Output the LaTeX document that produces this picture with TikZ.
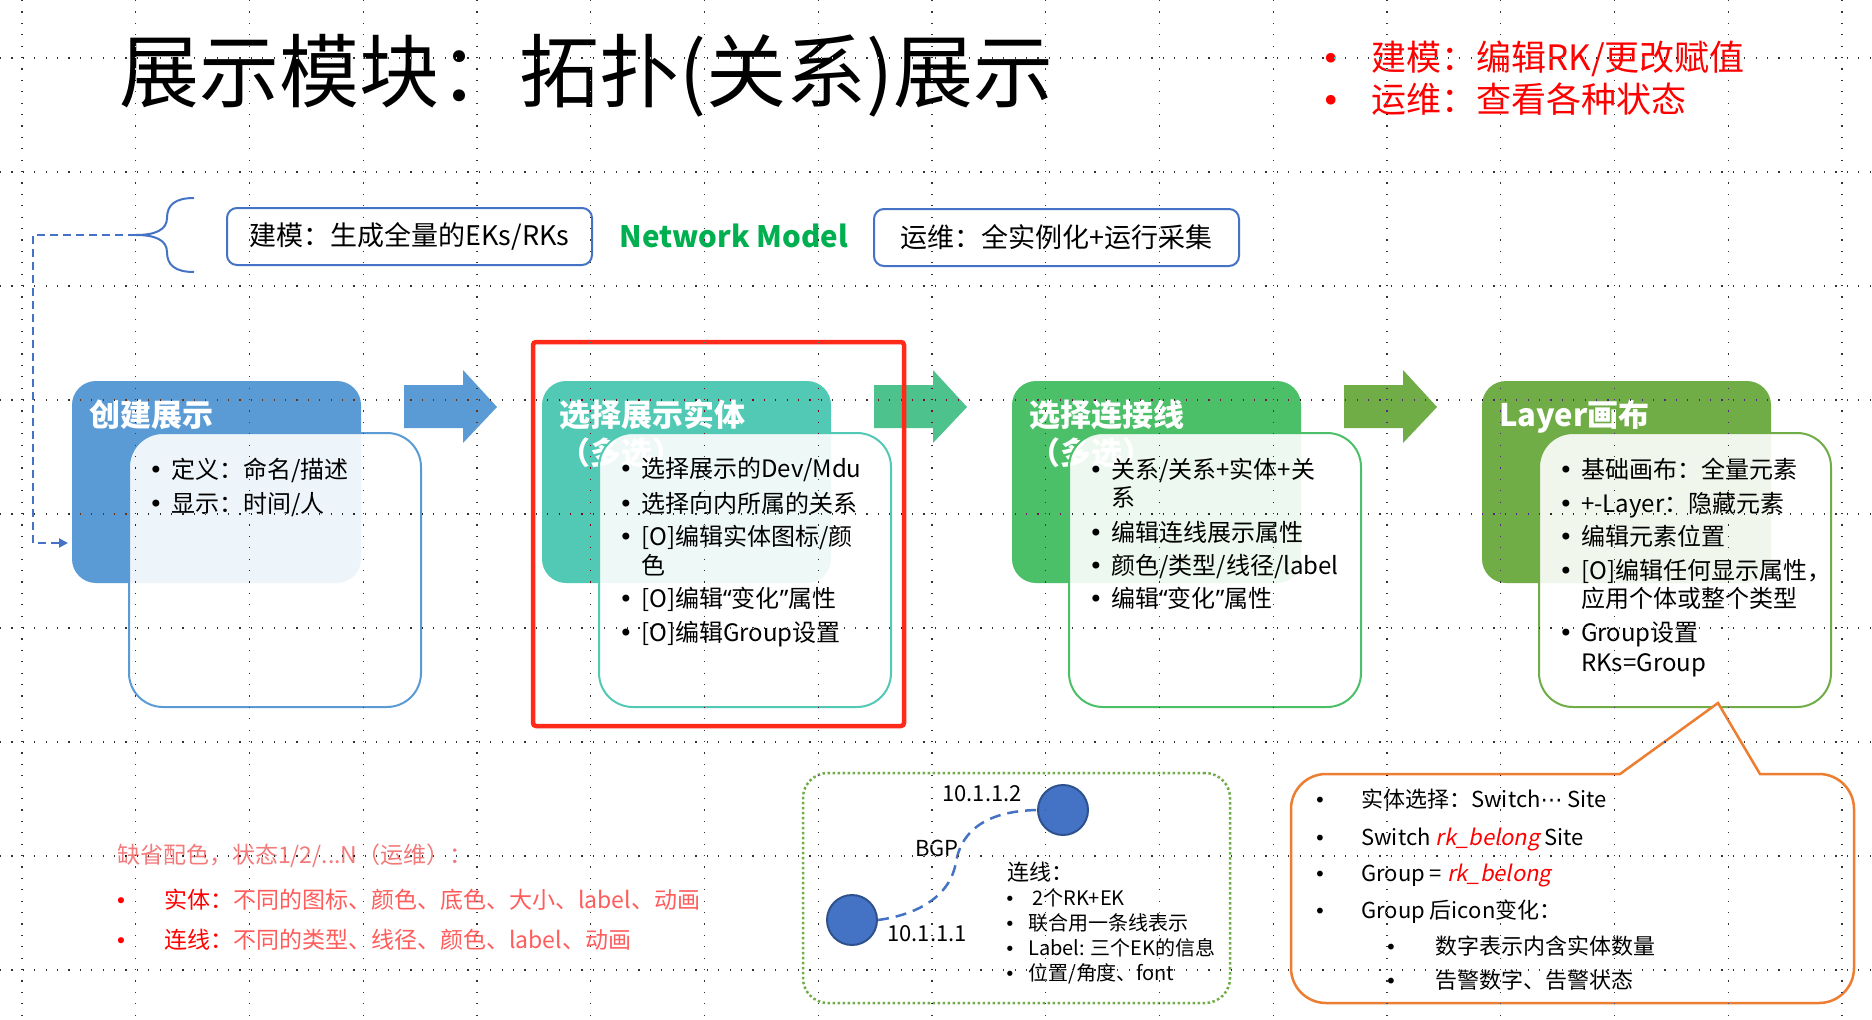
\documentclass[tikz,border=0pt]{standalone}
\usepackage{fontspec}
\setmainfont{Noto Sans CJK SC}[ItalicFont={Noto Sans CJK SC}, ItalicFeatures={FakeSlant=0.2}]
\newfontfamily\bulfont{DejaVu Sans}
\newfontfamily\latinfont{Noto Sans}
\usetikzlibrary{arrows.meta}

\definecolor{cBlue}{HTML}{5B9BD5}
\definecolor{cTeal}{HTML}{52C9B4}
\definecolor{cGreen}{HTML}{4CBF69}
\definecolor{cOlive}{HTML}{70AD47}
\definecolor{cMint}{HTML}{4DC28D}
\definecolor{cLine}{HTML}{4472C4}
\definecolor{cDeep}{HTML}{2F528F}
\definecolor{cRed}{HTML}{FF0000}
\definecolor{cFrame}{HTML}{FF2A1A}
\definecolor{cOrange}{HTML}{ED7D31}
\definecolor{cNet}{HTML}{00B050}
\definecolor{cPink}{HTML}{F27A7A}
\definecolor{cRose}{HTML}{FF5C5C}

\newcommand\fs[1]{\fontsize{#1}{#1}\selectfont}
\newcommand\bdot{{\bulfont •}}
\newcommand\oq{{\latinfont “}}
\newcommand\cq{{\latinfont ”}}
% bullet + text line: name, bullet centre x, text x, baseline y, text
\newcommand\stageitem[5]{%
  \node[bul, font=\fs{24}] (#1b) at (#2,#4) {\bdot};
  \node[item] (#1) at (#3,#4) {#5};}

\begin{document}
\begin{tikzpicture}[x=1pt,y=-1pt,
  txt/.style={anchor=base west, inner sep=0pt},
  bul/.style={anchor=base, inner sep=0pt},
  item/.style={txt, font=\fs{24}},
  stagebox/.style={rectangle, rounded corners=24pt, inner sep=0pt, outer sep=0pt},
  innerbox/.style={rectangle, rounded corners=34pt, line width=2pt, fill=white,
    fill opacity=0.9, inner sep=0pt, minimum width=292pt, minimum height=274pt},
  stagetitle/.style={txt, text=white, font=\fs{31}\bfseries},
  modelbox/.style={rectangle, draw=cLine, line width=2pt, rounded corners=10pt,
    minimum width=365pt, minimum height=57pt, font=\fs{27}},
  brace/.style={draw=cLine, line width=2pt},
  dconn/.style={draw=cLine, line width=2pt, dash pattern=on 8pt off 5pt,
    -{Triangle[length=9pt,width=9pt]}},
  bgp/.style={draw=cLine, line width=2.5pt, dash pattern=on 11pt off 7pt},
  host/.style={circle, fill=cLine, draw=cDeep, line width=2pt, minimum size=50pt, inner sep=0pt},
]
\useasboundingbox (0,0) rectangle (1872,1020);
\fill[white] (0,0) rectangle (1872,1020);

% ---------- heading ----------
\node[txt, font=\fs{80}] (title) at (119,101) {展示模块：拓扑(关系)展示};

\node[bul, text=cRed, font=\fs{33}] (r1b) at (1331,70) {\bdot};
\node[txt, text=cRed, font=\fs{35}] (r1) at (1371,70) {建模：编辑RK/更改赋值};
\node[bul, text=cRed, font=\fs{33}] (r2b) at (1331,112) {\bdot};
\node[txt, text=cRed, font=\fs{35}] (r2) at (1371,112) {运维：查看各种状态};

% ---------- network model row ----------
\node[modelbox] (mA) at (409.5,236.5) {建模：生成全量的EKs/RKs};
\node[font=\fs{29.5}\bfseries, text=cNet, inner sep=0pt] (nm) at (734,236) {Network Model};
\node[modelbox] (mB) at (1056.5,237.5) {运维：全实例化+运行采集};

\draw[brace] (194,198) .. controls (175,198) and (167,205) .. (167,218)
  .. controls (167,230) and (155,235) .. (136,235)
  .. controls (155,235) and (167,240) .. (167,252)
  .. controls (167,265) and (175,272) .. (194,272);
\coordinate (bt) at (136,235);
\coordinate (dcorner) at (33,543);

% ---------- stage 1 ----------
\node[stagebox, fill=cBlue, minimum width=289pt, minimum height=202pt] (s1) at (216.5,482) {};
\node[stagetitle] (s1t) at (89,426.5) {创建展示};
\node[innerbox, draw=cBlue] (i1) at (275,570) {};
\stageitem{t1a}{156}{171}{478}{定义：命名/描述}
\stageitem{t1b}{156}{171}{512}{显示：时间/人}

\draw[dconn] (bt) -| (dcorner) -- ([xshift=-4pt]s1.west |- dcorner);

% ---------- stage 2 ----------
\node[stagebox, fill=cTeal, minimum width=289pt, minimum height=202pt] (s2) at (686.5,482) {};
\node[stagetitle] (s2t) at (559,426.5) {选择展示实体};
\node[stagetitle] (s2u) at (559,464.5) {（多选）};
\node[innerbox, draw=cTeal] (i2) at (745,570) {};
\stageitem{t2a}{626}{641}{477}{选择展示的Dev/Mdu}
\stageitem{t2b}{626}{641}{512}{选择向内所属的关系}
\stageitem{t2c}{626}{641}{545}{[O]编辑实体图标/颜}
\node[item] (t2cc) at (641,574) {色};
\stageitem{t2d}{626}{641}{607}{[O]编辑\oq 变化\cq 属性}
\stageitem{t2e}{626}{641}{641}{[O]编辑Group设置}

% ---------- stage 3 ----------
\node[stagebox, fill=cGreen, minimum width=289pt, minimum height=202pt] (s3) at (1156.5,482) {};
\node[stagetitle] (s3t) at (1029,426.5) {选择连接线};
\node[stagetitle] (s3u) at (1029,464.5) {（多选）};
\node[innerbox, draw=cGreen] (i3) at (1215,570) {};
\stageitem{t3a}{1096}{1111}{478}{关系/关系+实体+关}
\node[item] (t3aa) at (1111,506) {系};
\stageitem{t3b}{1096}{1111}{541}{编辑连线展示属性}
\stageitem{t3c}{1096}{1111}{574}{颜色/类型/线径/label}
\stageitem{t3d}{1096}{1111}{607}{编辑\oq 变化\cq 属性}

% ---------- stage 4 ----------
\node[stagebox, fill=cOlive, minimum width=289pt, minimum height=202pt] (s4) at (1626.5,482) {};
\node[stagetitle] (s4t) at (1499,426.5) {Layer画布};
\node[innerbox, draw=cOlive] (i4) at (1685,570) {};
\stageitem{t4a}{1566}{1581}{478}{基础画布：全量元素}
\stageitem{t4b}{1566}{1581}{512}{+-Layer：隐藏元素}
\stageitem{t4c}{1566}{1581}{545}{编辑元素位置}
\stageitem{t4d}{1566}{1581}{579}{[O]编辑任何显示属性，}
\node[item] (t4dd) at (1581,607) {应用个体或整个类型};
\stageitem{t4e}{1566}{1581}{641}{Group设置}
\node[item] (t4ee) at (1581,671) {RKs=Group};

% ---------- block arrows between stages ----------
\fill[cBlue]  (404,385) -- (463,385) -- (463,370) -- (497,407) -- (463,443) -- (463,428) -- (404,428) -- cycle;
\fill[cMint]  (874,385) -- (933,385) -- (933,370) -- (967,407) -- (933,443) -- (933,428) -- (874,428) -- cycle;
\fill[cOlive] (1344,385) -- (1403,385) -- (1403,370) -- (1437,407) -- (1403,443) -- (1403,428) -- (1344,428) -- cycle;

% highlight frame around stage 2
\node[rectangle, draw=cFrame, line width=4.5pt, rounded corners=3pt,
  minimum width=371pt, minimum height=384pt] (fr) at (718.5,534) {};

% ---------- default colouring notes ----------
\node[txt, font=\fs{23}, text=cPink] (d0) at (117,863) {缺省配色，状态1/2/...N（运维）：};
\node[bul, font=\fs{21}, text=cRed] (d1b) at (121,908.5) {\bdot};
\node[txt, font=\fs{23}, text=cRose] (d1) at (164,908.5) {{\color{cRed}实体：}不同的图标、颜色、底色、大小、label、动画};
\node[bul, font=\fs{21}, text=cRed] (d2b) at (121,948.5) {\bdot};
\node[txt, font=\fs{23}, text=cRose] (d2) at (164,948.5) {{\color{cRed}连线：}不同的类型、线径、颜色、label、动画};

% ---------- link example ----------
\node[rectangle, draw=cOlive, line width=2.5pt, dash pattern=on 2.5pt off 2.5pt,
  rounded corners=25pt, minimum width=427pt, minimum height=230pt] (net) at (1016.5,888) {};
\node[host] (nA) at (1063,810) {};
\node[host] (nB) at (852,920) {};
\coordinate (bgpmid) at (956,862);
\draw[bgp] (nB.east) .. controls (915,915) and (950,898) .. (bgpmid)
  .. controls (962,828) and (990,811) .. (nA.west);
\node[bul, font=\fs{22}] (ipA) at (982,801) {10.1.1.2};
\node[bul, font=\fs{22}] (lbgp) at (937,856) {BGP};
\node[bul, font=\fs{22}] (ipB) at (927,941) {10.1.1.1};
\node[txt, font=\fs{22}] (lk) at (1007,880) {连线：};
\node[bul, font=\fs{18}] (lk1b) at (1010,905) {\bdot};
\node[txt, font=\fs{20}] (lk1) at (1028,905) {\hspace{4pt}2个RK+EK};
\node[bul, font=\fs{18}] (lk2b) at (1010,930) {\bdot};
\node[txt, font=\fs{20}] (lk2) at (1028,930) {联合用一条线表示};
\node[bul, font=\fs{18}] (lk3b) at (1010,955) {\bdot};
\node[txt, font=\fs{20}] (lk3) at (1028,955) {Label: 三个EK的信息};
\node[bul, font=\fs{18}] (lk4b) at (1010,980) {\bdot};
\node[txt, font=\fs{20}] (lk4) at (1028,980) {位置/角度、font};

% ---------- group callout ----------
\draw[draw=cOrange, fill=white, line width=2.5pt, line join=miter]
  (1620,774) -- (1718,703) -- (1760,774) -- (1819,774)
  arc[start angle=-90, end angle=0, radius=35] -- (1854,968)
  arc[start angle=0, end angle=90, radius=35] -- (1326,1003)
  arc[start angle=90, end angle=180, radius=35] -- (1291,809)
  arc[start angle=180, end angle=270, radius=35] -- cycle;
\node[bul, font=\fs{20}] (g1b) at (1320,807) {\bdot};
\node[txt, font=\fs{22}] (g1) at (1361,807) {实体选择：Switch{\bulfont ⋯} Site};
\node[bul, font=\fs{20}] (g2b) at (1320,845) {\bdot};
\node[txt, font=\fs{22}] (g2) at (1361,845) {Switch {\color{cRed}\itshape rk\_belong} Site};
\node[bul, font=\fs{20}] (g3b) at (1320,881) {\bdot};
\node[txt, font=\fs{22}] (g3) at (1361,881) {Group = {\color{cRed}\itshape rk\_belong}};
\node[bul, font=\fs{20}] (g4b) at (1320,918) {\bdot};
\node[txt, font=\fs{22}] (g4) at (1361,918) {Group 后icon变化：};
\node[bul, font=\fs{20}] (g5b) at (1391,954) {\bdot};
\node[txt, font=\fs{22}] (g5) at (1435,954) {数字表示内含实体数量};
\node[bul, font=\fs{20}] (g6b) at (1391,988) {\bdot};
\node[txt, font=\fs{22}] (g6) at (1435,988) {告警数字、告警状态};

% ---------- dotted layout grid, inverted over the artwork ----------
\begin{scope}[blend mode=difference, draw=white!80!black, line width=1.2pt, dash pattern=on 1.2pt off 10.2pt]
  \foreach \k in {0,...,16} \draw (22+113.75*\k,0) -- (22+113.75*\k,1020);
  \foreach \k in {0,...,8} \draw (0,58+114*\k) -- (1872,58+114*\k);
\end{scope}
\end{tikzpicture}
\end{document}
